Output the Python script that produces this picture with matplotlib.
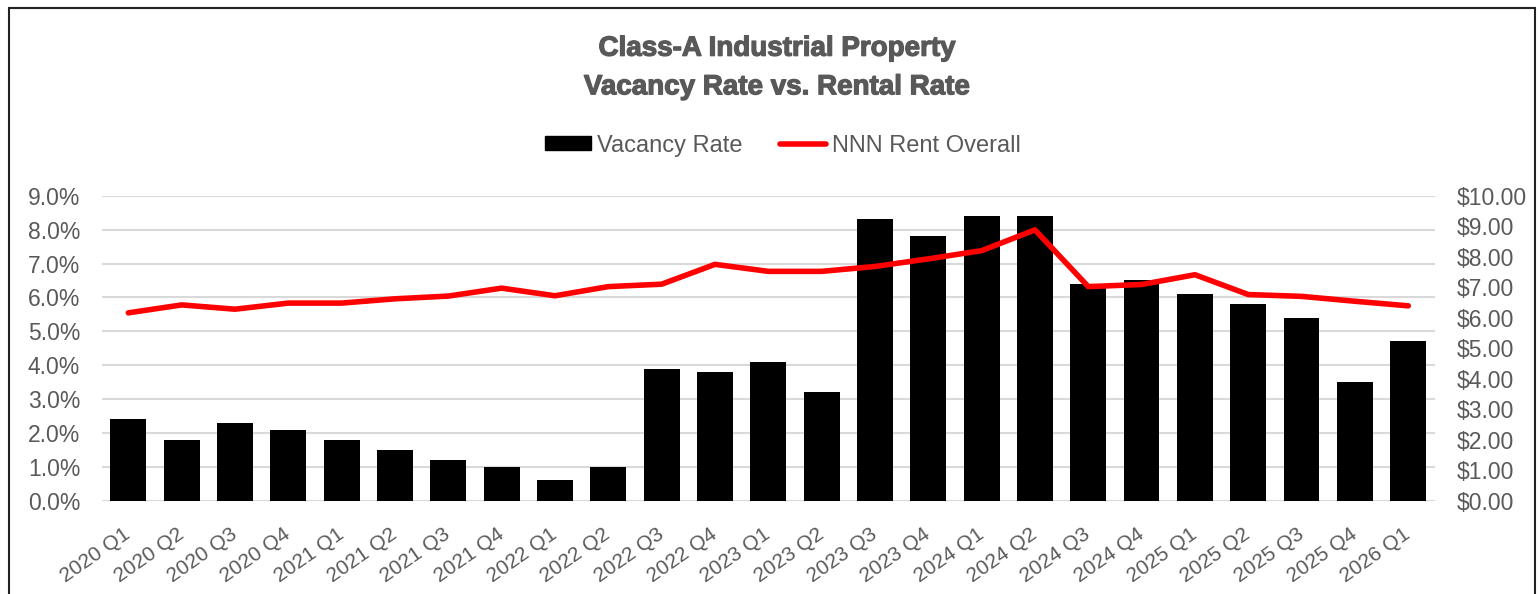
import matplotlib
matplotlib.use("Agg")
import matplotlib.pyplot as plt
import matplotlib.patheffects as pe
from matplotlib.patches import Rectangle, Patch
from matplotlib.lines import Line2D
from matplotlib.ticker import FuncFormatter

quarters = ["2020 Q1", "2020 Q2", "2020 Q3", "2020 Q4",
            "2021 Q1", "2021 Q2", "2021 Q3", "2021 Q4",
            "2022 Q1", "2022 Q2", "2022 Q3", "2022 Q4",
            "2023 Q1", "2023 Q2", "2023 Q3", "2023 Q4",
            "2024 Q1", "2024 Q2", "2024 Q3", "2024 Q4",
            "2025 Q1", "2025 Q2", "2025 Q3", "2025 Q4",
            "2026 Q1"]
vacancy = [2.4, 1.8, 2.3, 2.1, 1.8, 1.5, 1.2, 1.0, 0.6, 1.0, 3.9, 3.8, 4.1,
           3.2, 8.3, 7.8, 8.4, 8.4, 6.4, 6.5, 6.1, 5.8, 5.4, 3.5, 4.7]
rent = [6.16, 6.42, 6.28, 6.48, 6.48, 6.62, 6.71, 6.97, 6.72, 7.02, 7.10,
        7.75, 7.52, 7.52, 7.68, 7.93, 8.20, 8.88, 7.02, 7.09, 7.41, 6.76,
        6.70, 6.54, 6.39]

grey = "#595959"
plt.rcParams["font.family"] = ["Liberation Sans", "DejaVu Sans"]

fig = plt.figure(figsize=(15.38, 5.94), dpi=100)
ax = fig.add_axes([0.0661, 0.157, 0.8669, 0.5135])
ax2 = ax.twinx()

x = range(len(quarters))
ax.bar(x, vacancy, width=0.67, color="black", zorder=3)
ax2.plot(x, rent, color="#ff0000", linewidth=4, solid_capstyle="round", zorder=4)

ax.set_ylim(0, 9)
ax.set_yticks(range(0, 10))
ax.yaxis.set_major_formatter(FuncFormatter(lambda v, p: f"{v:.1f}%"))
ax2.set_ylim(0, 10)
ax2.set_yticks(range(0, 11))
ax2.yaxis.set_major_formatter(FuncFormatter(lambda v, p: f"${v:.2f}"))
ax.set_xlim(-0.5, len(quarters) - 0.5)
ax.set_xticks(list(x))
ax.set_xticklabels(quarters, rotation=35, ha="right", va="center",
                   rotation_mode="anchor")

ax.grid(axis="y", color="#d9d9d9", linewidth=1.5, zorder=0)
ax.set_axisbelow(True)
for a in (ax, ax2):
    for s in a.spines.values():
        s.set_visible(False)
    a.tick_params(length=0, labelsize=16.5, colors=grey)
ax.tick_params(axis="x", labelsize=15, pad=23)
ax.tick_params(axis="y", pad=15.5)
ax2.tick_params(axis="y", pad=15.5)

stroke = [pe.withStroke(linewidth=0.9, foreground=grey)]
fig.text(0.505, 0.918, "Class-A Industrial Property", ha="center", va="center",
         fontsize=20, fontweight="bold", color=grey, path_effects=stroke)
fig.text(0.505, 0.853, "Vacancy Rate vs. Rental Rate", ha="center", va="center",
         fontsize=20, fontweight="bold", color=grey, path_effects=stroke)

handles = [Patch(facecolor="black", edgecolor="black"),
           Line2D([0], [0], color="#ff0000", linewidth=4, solid_capstyle="round")]
fig.legend(handles, ["Vacancy Rate", "NNN Rent Overall"], loc="center",
           bbox_to_anchor=(0.509, 0.755), ncol=2, frameon=False, fontsize=17,
           labelcolor=grey, handlelength=1.95, handleheight=0.55,
           handletextpad=0.25, columnspacing=1.6)

fig.patches.append(Rectangle((9 / 1538, -0.1), 1526 / 1538, 1.1 - 8 / 594,
                             transform=fig.transFigure, fill=False,
                             edgecolor="#222222", linewidth=1.5))

fig.savefig("out.png", dpi=100)
